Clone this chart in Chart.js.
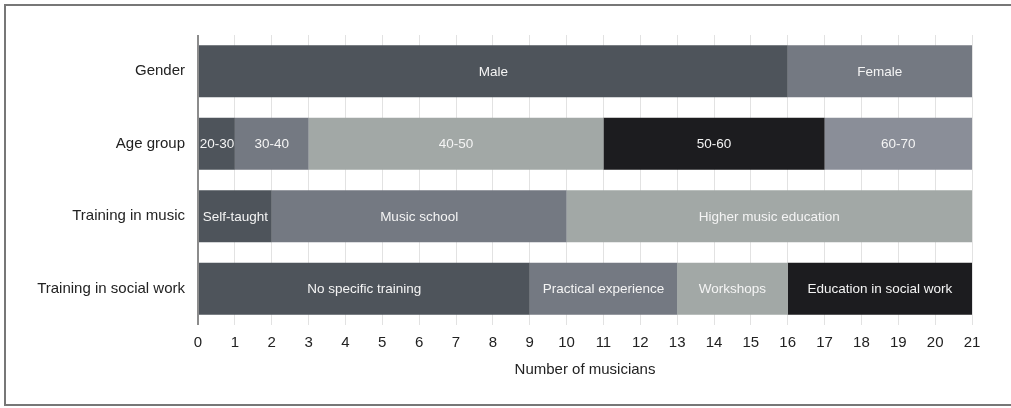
<!DOCTYPE html>
<html>
<head>
<meta charset="utf-8">
<script src="https://cdn.jsdelivr.net/npm/chart.js@4"></script>
<style>
  html, body { margin: 0; padding: 0; background: #fff; overflow: hidden; }
  #wrap { position: relative; width: 1011px; height: 408px; }
  #frame { position: absolute; left: 4px; top: 4px; width: 1020px; height: 398px;
           border: 2px solid #777; pointer-events: none; }
</style>
</head>
<body>
<div id="wrap">
  <canvas id="chart" width="1011" height="408"></canvas>
  <div id="frame"></div>
</div>
<script>
const categories = ['Gender', 'Age group', 'Training in music', 'Training in social work'];

const genderLabels = ['Male', 'Female'];
const genderCounts = [16, 5];
const ageLabels = ['20-30', '30-40', '40-50', '50-60', '60-70'];
const ageCounts = [1, 2, 8, 6, 4];
const musicLabels = ['Self-taught', 'Music school', 'Higher music education'];
const musicCounts = [2, 8, 11];
const socialLabels = ['No specific training', 'Practical experience', 'Workshops', 'Education in social work'];
const socialCounts = [9, 4, 3, 5];

const xTicks = [0, 1, 2, 3, 4, 5, 6, 7, 8, 9, 10, 11, 12, 13, 14, 15, 16, 17, 18, 19, 20, 21];

// segment colours, same order in every bar
const segColors = ['#4e545b', '#747982', '#a2a8a6', '#1c1c1f', '#8a8e98'];

const groupLabels = [genderLabels, ageLabels, musicLabels, socialLabels];
const groupCounts = [genderCounts, ageCounts, musicCounts, socialCounts];

const datasets = [];
for (let s = 0; s < 5; s++) {
    datasets.push({
        label: 'Segment ' + (s + 1),
        data: groupCounts.map(function (c) { return c[s] !== undefined ? c[s] : null; }),
        segLabels: groupLabels.map(function (l) { return l[s] || ''; }),
        backgroundColor: segColors[s],
        borderWidth: 0,
        barPercentage: 0.72,
        categoryPercentage: 1.0
    });
}

const segmentText = {
    id: 'segmentText',
    afterDatasetsDraw: function (chart) {
        const ctx = chart.ctx;
        ctx.save();
        ctx.font = '13.5px "Liberation Sans", Arial, sans-serif';
        ctx.fillStyle = '#f4f4f4';
        ctx.textAlign = 'center';
        ctx.textBaseline = 'middle';
        chart.data.datasets.forEach(function (ds, i) {
            chart.getDatasetMeta(i).data.forEach(function (bar, j) {
                const txt = ds.segLabels[j];
                if (!txt || !ds.data[j]) return;
                ctx.fillText(txt, (bar.x + bar.base) / 2, bar.y + 1);
            });
        });
        ctx.restore();
    }
};

Chart.defaults.font.family = '"Liberation Sans", Arial, sans-serif';
Chart.defaults.color = '#222';

new Chart(document.getElementById('chart').getContext('2d'), {
    type: 'bar',
    data: { labels: categories, datasets: datasets },
    options: {
        indexAxis: 'y',
        responsive: false,
        animation: false,
        layout: { padding: { top: 35, right: 39, bottom: 29, left: 0 } },
        plugins: { legend: { display: false }, tooltip: { enabled: false } },
        scales: {
            x: {
                stacked: true,
                min: 0,
                max: 21,
                afterBuildTicks: function (scale) {
                    scale.ticks = xTicks.map(function (v) { return { value: v }; });
                },
                grid: {
                    drawTicks: false,
                    color: function (c) { return c.index === 0 ? '#8c8c8c' : '#e2e2e2'; },
                    lineWidth: function (c) { return c.index === 0 ? 2 : 1; }
                },
                border: { display: false },
                ticks: { padding: 9, font: { size: 15 }, color: '#222' },
                title: { display: true, text: 'Number of musicians', font: { size: 15 }, color: '#222', padding: { top: 0, bottom: 0 } }
            },
            y: {
                stacked: true,
                grid: { display: false, drawTicks: false },
                border: { display: false },
                ticks: { padding: 13, font: { size: 15 }, color: '#222' },
                afterFit: function (scale) { scale.width = 198; }
            }
        }
    },
    plugins: [segmentText]
});
</script>
</body>
</html>
